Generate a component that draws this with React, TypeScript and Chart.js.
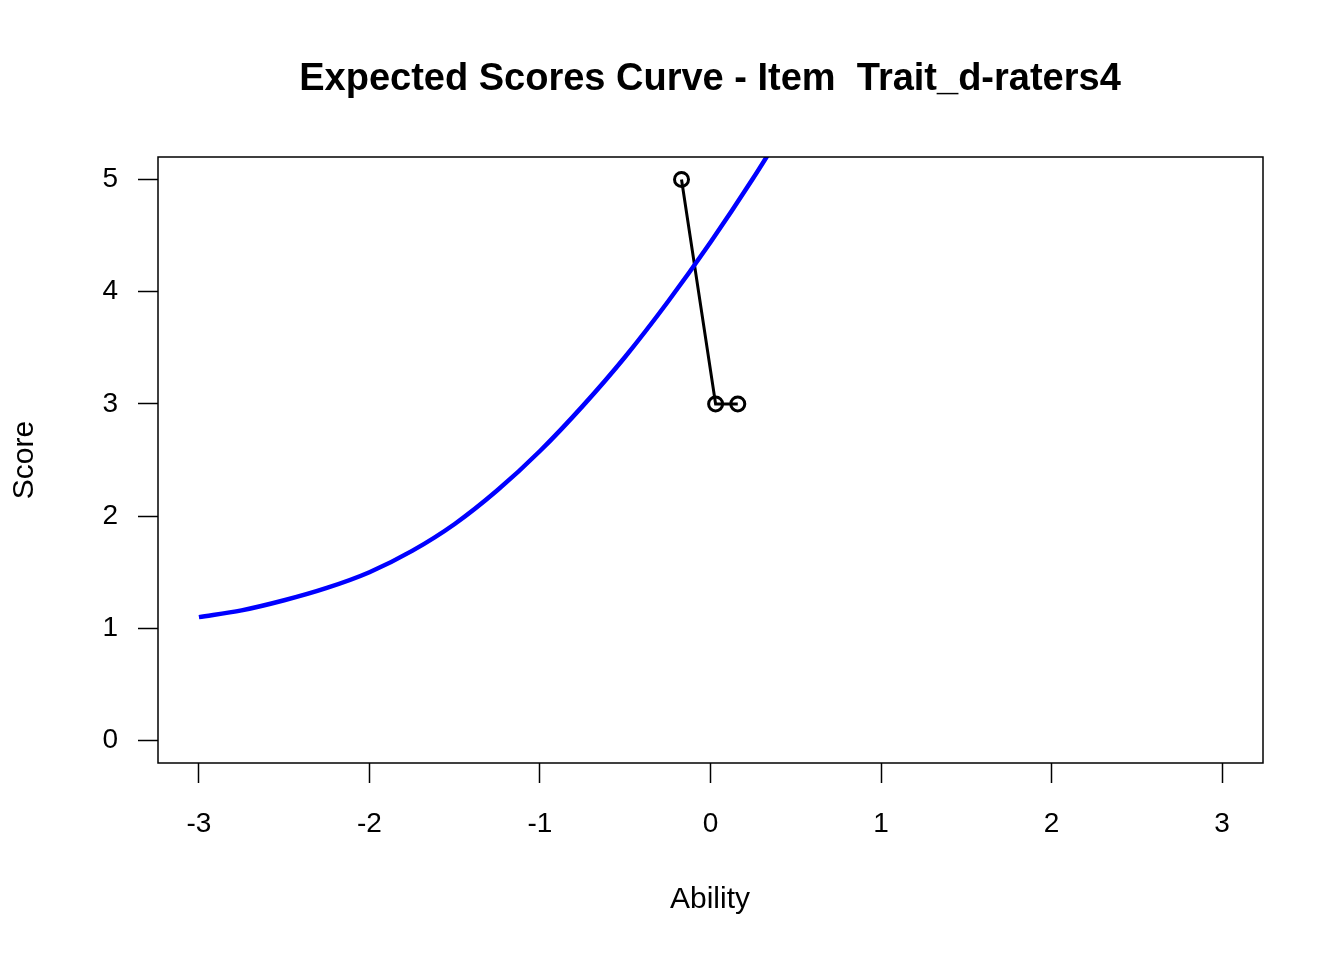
import React, { useEffect, useRef } from "react";
import { Chart, registerables } from "chart.js";

Chart.register(...registerables);

const titleText = "Expected Scores Curve - Item  Trait_d-raters4";
const xAxisTitle = "Ability";
const yAxisTitle = "Score";

const xTicks = [-3, -2, -1, 0, 1, 2, 3];
const yTicks = [0, 1, 2, 3, 4, 5];

const curveAbility = [-3, -2.75, -2.5, -2.25, -2, -1.75, -1.5, -1.25, -1, -0.75, -0.5, -0.25, 0, 0.25, 0.5];
const curveScore = [1.1, 1.16, 1.25, 1.36, 1.5, 1.69, 1.93, 2.23, 2.58, 2.98, 3.42, 3.91, 4.44, 5.01, 5.62];

const observedAbility = [-0.17, 0.03, 0.16];
const observedScore = [5, 3, 3];

const FONT = "'Liberation Sans', Arial, Helvetica, sans-serif";

export default function App() {
  const ref = useRef<HTMLCanvasElement | null>(null);

  useEffect(() => {
    if (!ref.current) return;
    const framePlugin = {
      id: "frame",
      afterDraw(chart: any) {
        const { ctx, chartArea } = chart;
        ctx.save();
        ctx.strokeStyle = "#000";
        ctx.lineWidth = 1.5;
        ctx.strokeRect(chartArea.left, chartArea.top, chartArea.right - chartArea.left, chartArea.bottom - chartArea.top);
        ctx.fillStyle = "#000";
        ctx.textAlign = "center";
        ctx.textBaseline = "middle";
        ctx.font = `bold 38px ${FONT}`;
        ctx.fillText(titleText, 710, 80);
        ctx.font = `30px ${FONT}`;
        ctx.fillText(xAxisTitle, 710, 900);
        ctx.translate(25, 460);
        ctx.rotate(-Math.PI / 2);
        ctx.fillText(yAxisTitle, 0, 0);
        ctx.restore();
      },
    };

    const chart = new Chart(ref.current, {
      type: "scatter",
      data: {
        datasets: [
          {
            label: "Expected",
            data: curveAbility.map((x, i) => ({ x, y: curveScore[i] })),
            showLine: true,
            borderColor: "#0000ff",
            backgroundColor: "#0000ff",
            borderWidth: 4.5,
            pointRadius: 0,
            cubicInterpolationMode: "monotone",
            clip: 0,
          },
          {
            label: "Observed",
            data: observedAbility.map((x, i) => ({ x, y: observedScore[i] })),
            showLine: true,
            borderColor: "#000",
            backgroundColor: "rgba(0,0,0,0)",
            borderWidth: 3,
            pointRadius: 7,
            pointBorderWidth: 3,
            pointBorderColor: "#000",
            pointBackgroundColor: "rgba(0,0,0,0)",
            clip: false,
          },
        ] as any,
      },
      options: {
        animation: false,
        responsive: true,
        maintainAspectRatio: false,
        layout: { padding: { top: 157, right: 81, left: 0, bottom: 0 } },
        plugins: {
          legend: { display: false },
          title: { display: false },
          tooltip: { enabled: false },
        },
        scales: {
          x: {
            type: "linear",
            min: -3.24,
            max: 3.24,
            afterBuildTicks: (s: any) => {
              s.ticks = xTicks.map((v) => ({ value: v }));
            },
            afterFit: (s: any) => {
              s.height = 197;
            },
            border: { display: false },
            grid: {
              drawOnChartArea: false,
              drawTicks: true,
              tickLength: 20,
              tickColor: "#000",
              tickWidth: 1.5,
            },
            ticks: {
              color: "#000",
              font: { family: FONT, size: 28 },
              padding: 24,
              maxRotation: 0,
              autoSkip: false,
              callback: (v: any) => String(v),
            },
          },
          y: {
            type: "linear",
            min: -0.2,
            max: 5.2,
            afterBuildTicks: (s: any) => {
              s.ticks = yTicks.map((v) => ({ value: v }));
            },
            afterFit: (s: any) => {
              s.width = 158;
            },
            border: { display: false },
            grid: {
              drawOnChartArea: false,
              drawTicks: true,
              tickLength: 20,
              tickColor: "#000",
              tickWidth: 1.5,
            },
            ticks: {
              color: "#000",
              font: { family: FONT, size: 28 },
              padding: 20,
              autoSkip: false,
              callback: (v: any) => String(v),
            },
          },
        },
      } as any,
      plugins: [framePlugin],
    });
    return () => chart.destroy();
  }, []);

  return (
    <div style={{ position: "absolute", left: 0, top: 0, width: 1344, height: 960, background: "#fff" }}>
      <canvas ref={ref} />
    </div>
  );
}
